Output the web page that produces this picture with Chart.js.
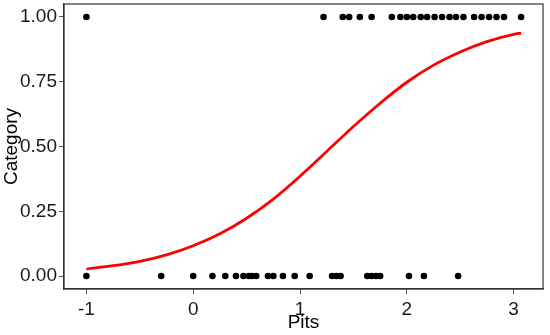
<!DOCTYPE html>
<html>
<head>
<meta charset="utf-8">
<script src="https://cdn.jsdelivr.net/npm/chart.js@4.4.1/dist/chart.umd.min.js"></script>
<style>
  html, body { margin: 0; padding: 0; background: #ffffff; }
  #wrap { width: 550px; height: 335px; }
</style>
</head>
<body>
<div id="wrap"><canvas id="c" width="550" height="335"></canvas></div>
<script>
// Observations: Pits value (x) and Category (0 or 1)
const pits1 = [-1.0, 1.22, 1.40, 1.46, 1.56, 1.67, 1.86, 1.94, 2.0, 2.06, 2.13, 2.19, 2.26, 2.33, 2.40, 2.46, 2.53, 2.63, 2.70, 2.77, 2.84, 2.91, 3.07];
const pits0 = [-1.0, -0.30, 0.0, 0.18, 0.30, 0.40, 0.47, 0.52, 0.55, 0.59, 0.70, 0.75, 0.84, 0.95, 1.09, 1.30, 1.34, 1.38, 1.63, 1.67, 1.71, 1.75, 2.02, 2.16, 2.48];

// Fitted curve
const curveX = [-1.0, -0.75, -0.5, -0.25, 0.0, 0.25, 0.5, 0.75, 1.0, 1.25, 1.5, 1.75, 2.0, 2.25, 2.5, 2.75, 3.0, 3.07];
const curveY = [0.027, 0.040, 0.057, 0.082, 0.117, 0.163, 0.223, 0.297, 0.385, 0.481, 0.577, 0.667, 0.748, 0.814, 0.865, 0.905, 0.933, 0.938];

// Tick labels
const xTicks = [-1, 0, 1, 2, 3];
const yTicks = [0, 0.25, 0.5, 0.75, 1];

const FONT = "'Liberation Sans', Arial, sans-serif";

const pts1 = pits1.map(v => ({ x: v, y: 1 }));
const pts0 = pits0.map(v => ({ x: v, y: 0 }));
const curve = curveX.map((v, i) => ({ x: v, y: curveY[i] }));

const borderPlugin = {
  id: 'panelBorder',
  afterDatasetsDraw(chart) {
    const { ctx, chartArea: a } = chart;
    ctx.save();
    ctx.strokeStyle = '#333333';
    ctx.lineWidth = 1.2;
    ctx.strokeRect(a.left, a.top, a.right - a.left, a.bottom - a.top);
    ctx.restore();
  }
};

new Chart(document.getElementById('c'), {
  type: 'scatter',
  data: {
    datasets: [
      {
        type: 'line',
        data: curve,
        borderColor: '#ff0000',
        borderWidth: 2.8,
        pointRadius: 0,
        fill: false,
        cubicInterpolationMode: 'monotone',
        order: 2
      },
      {
        data: pts1,
        backgroundColor: '#000000',
        borderWidth: 0,
        pointRadius: 3.3,
        order: 1
      },
      {
        data: pts0,
        backgroundColor: '#000000',
        borderWidth: 0,
        pointRadius: 3.3,
        order: 1
      }
    ]
  },
  options: {
    responsive: false,
    animation: false,
    devicePixelRatio: 1,
    layout: { padding: { top: 4, right: 7, left: 0, bottom: 0 } },
    plugins: {
      legend: { display: false },
      tooltip: { enabled: false }
    },
    scales: {
      x: {
        type: 'linear',
        min: -1.21,
        max: 3.275,
        afterBuildTicks: s => { s.ticks = xTicks.map(v => ({ value: v })); },
        afterFit: s => { s.height = 46; s.paddingLeft = 0; s.paddingRight = 0; },
        grid: { drawOnChartArea: false, drawTicks: true, tickLength: 5, color: '#555555', lineWidth: 1 },
        border: { display: true, color: '#333333', width: 1.2 },
        ticks: {
          color: '#1a1a1a',
          font: { family: FONT, size: 19 },
          padding: 4,
          maxRotation: 0,
          callback: v => String(v)
        },
        title: {
          display: true,
          text: 'Pits',
          color: '#000000',
          font: { family: FONT, size: 19 },
          padding: { top: 0, bottom: 1 }
        }
      },
      y: {
        type: 'linear',
        min: -0.05,
        max: 1.05,
        afterBuildTicks: s => { s.ticks = yTicks.map(v => ({ value: v })); },
        afterFit: s => { s.width = 64; s.paddingTop = 0; s.paddingBottom = 0; },
        grid: { drawOnChartArea: false, drawTicks: true, tickLength: 5, color: '#555555', lineWidth: 1 },
        border: { display: true, color: '#333333', width: 1.2 },
        ticks: {
          color: '#1a1a1a',
          font: { family: FONT, size: 19 },
          padding: 2,
          callback: v => Number(v).toFixed(2)
        },
        title: {
          display: true,
          text: 'Category',
          color: '#000000',
          font: { family: FONT, size: 19 },
          padding: { top: 0, bottom: 0 }
        }
      }
    }
  },
  plugins: [borderPlugin]
});
</script>
</body>
</html>
